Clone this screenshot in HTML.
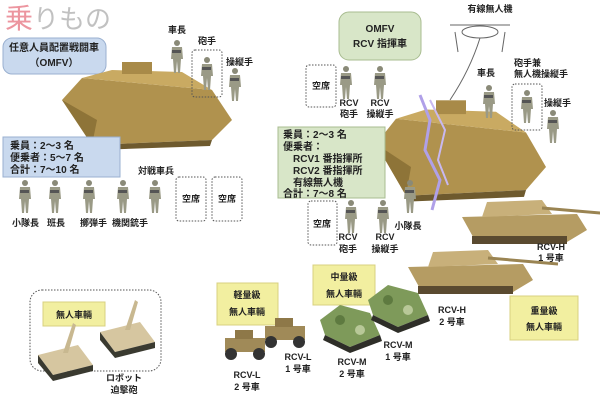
<!DOCTYPE html>
<html><head><meta charset="utf-8"><style>
html,body{margin:0;padding:0;background:#fff;}
svg{display:block;}
text{font-family:"Liberation Sans","Noto Sans CJK JP",sans-serif;font-size:10px;fill:#222;}
.b{font-weight:bold;}
</style></head><body>
<svg width="600" height="400" viewBox="0 0 600 400" xmlns="http://www.w3.org/2000/svg">
<defs>
<g id="sol"><circle cx="0" cy="3" r="3" fill="#8a8a78"/><path d="M-5 7 h10 l1 12 h-2 l-1 14 h-2 l-1 -12 l-1 12 h-2 l-1 -14 h-2z" fill="#9a9a86"/><rect x="-5" y="10" width="9" height="3" fill="#555"/></g>
<g id="tank"><path d="M0 40 L20 18 L150 30 L170 60 L150 80 L30 85 Z" fill="#b0924e"/><path d="M20 18 L50 10 L120 12 L150 30 Z" fill="#c9aa62"/><path d="M0 40 L30 85 L35 60 Z" fill="#8e7438"/><rect x="60" y="2" width="30" height="12" fill="#a88a48"/><path d="M30 85 L150 80 L148 86 L34 90Z" fill="#6e5a2e"/></g>
<g id="mbt"><path d="M0 25 L115 22 L125 38 L105 50 L15 52 Z" fill="#b59c63"/><path d="M25 10 L80 8 L90 22 L20 25 Z" fill="#c8b07a"/><line x1="80" y1="16" x2="150" y2="22" stroke="#9a8452" stroke-width="3"/><rect x="10" y="44" width="95" height="8" fill="#5a4a30"/></g>
<g id="rcvl"><rect x="0" y="8" width="40" height="14" fill="#a08a58"/><rect x="10" y="0" width="18" height="9" fill="#8e7848"/><circle cx="6" cy="24" r="6" fill="#333"/><circle cx="34" cy="24" r="6" fill="#333"/></g>
<g id="rcvm"><path d="M0 15 L20 0 L50 8 L60 30 L30 42 L5 30Z" fill="#7e9a5a"/><path d="M5 30 L30 42 L60 30 L62 36 L30 48 L3 35Z" fill="#2e2e28"/><circle cx="20" cy="15" r="5" fill="#5e7a40"/><circle cx="40" cy="25" r="5" fill="#b8c898"/></g>
<g id="robot"><path d="M0 20 L40 10 L55 30 L15 40Z" fill="#d6c6a0"/><path d="M0 20 L15 40 L15 46 L0 28Z" fill="#3a3a30"/><path d="M15 40 L55 30 L55 36 L15 46Z" fill="#3a3a30"/><path d="M25 18 L35 -12 L38 -10 L30 18Z" fill="#c8b890"/></g>
</defs>

<text x="5" y="28" style="font-size:28px;fill:#e05060;opacity:.6">乗</text>
<text x="33" y="28" style="font-size:26px;fill:#999;opacity:.6">りもの</text>

<rect x="3" y="38" width="103" height="36" rx="9" fill="#c9d9ee" stroke="#9ab0d0"/>
<text x="54" y="51" text-anchor="middle" class="b">任意人員配置戦闘車</text>
<text x="54" y="66" text-anchor="middle" class="b">（OMFV）</text>

<use href="#tank" transform="translate(62,60)"/>

<text x="177" y="33" text-anchor="middle" class="b" style="font-size:9px">車長</text>
<use href="#sol" transform="translate(177,40)"/>
<text x="207" y="44" text-anchor="middle" class="b" style="font-size:9px">砲手</text>
<rect x="192" y="50" width="30" height="47" rx="3" fill="none" stroke="#555" stroke-dasharray="1.5,1.5"/>
<use href="#sol" transform="translate(207,57)"/>
<text x="226" y="65" class="b" style="font-size:9px">操縦手</text>
<use href="#sol" transform="translate(235,68)"/>

<rect x="3" y="137" width="117" height="40" fill="#c9d9ee" stroke="#9ab0d0"/>
<text x="10" y="149" class="b">乗員：2〜3 名</text>
<text x="10" y="161" class="b">便乗者：5〜7 名</text>
<text x="10" y="173" class="b">合計：7〜10 名</text>

<text x="138" y="174" class="b" style="font-size:9px">対戦車兵</text>
<use href="#sol" transform="translate(25,180)"/>
<use href="#sol" transform="translate(55,180)"/>
<use href="#sol" transform="translate(89,180)"/>
<use href="#sol" transform="translate(123,180)"/>
<use href="#sol" transform="translate(155,180)"/>
<text x="12" y="226" class="b" style="font-size:9px">小隊長</text>
<text x="47" y="226" class="b" style="font-size:9px">班長</text>
<text x="80" y="226" class="b" style="font-size:9px">擲弾手</text>
<text x="112" y="226" class="b" style="font-size:9px">機関銃手</text>
<rect x="176" y="177" width="30" height="44" rx="3" fill="none" stroke="#555" stroke-dasharray="1.5,1.5"/>
<text x="191" y="202" text-anchor="middle" class="b" style="font-size:9px">空席</text>
<rect x="212" y="177" width="30" height="44" rx="3" fill="none" stroke="#555" stroke-dasharray="1.5,1.5"/>
<text x="227" y="202" text-anchor="middle" class="b" style="font-size:9px">空席</text>

<rect x="339" y="12" width="82" height="48" rx="10" fill="#d8e6c8" stroke="#a8bc90"/>
<text x="380" y="32" text-anchor="middle" class="b">OMFV</text>
<text x="380" y="47" text-anchor="middle" class="b">RCV 指揮車</text>

<text x="490" y="12" text-anchor="middle" class="b" style="font-size:9px">有線無人機</text>
<g stroke="#666" fill="none"><ellipse cx="480" cy="32" rx="18" ry="6"/><line x1="450" y1="25" x2="510" y2="25"/><line x1="455" y1="32" x2="458" y2="52"/><line x1="505" y1="32" x2="502" y2="52"/><path d="M480 38 Q470 70 450 100"/></g>

<use href="#tank" transform="translate(376,98) scale(1,1.15)"/>
<path d="M420 95 L430 120 L425 150 L440 180 L432 210" stroke="#b0a0e8" stroke-width="3" fill="none"/>
<path d="M430 100 L445 130 L438 160 L448 185" stroke="#c8b8f0" stroke-width="2" fill="none"/>

<rect x="306" y="65" width="30" height="42" rx="3" fill="none" stroke="#555" stroke-dasharray="1.5,1.5"/>
<text x="321" y="89" text-anchor="middle" class="b" style="font-size:9px">空席</text>
<use href="#sol" transform="translate(346,66)"/>
<use href="#sol" transform="translate(380,66)"/>
<text x="349" y="106" text-anchor="middle" class="b" style="font-size:9px">RCV</text>
<text x="349" y="117" text-anchor="middle" class="b" style="font-size:9px">砲手</text>
<text x="380" y="106" text-anchor="middle" class="b" style="font-size:9px">RCV</text>
<text x="380" y="117" text-anchor="middle" class="b" style="font-size:9px">操縦手</text>

<text x="486" y="76" text-anchor="middle" class="b" style="font-size:9px">車長</text>
<use href="#sol" transform="translate(489,85)"/>
<text x="514" y="66" class="b" style="font-size:9px">砲手兼</text>
<text x="514" y="77" class="b" style="font-size:9px">無人機操縦手</text>
<rect x="512" y="84" width="30" height="46" rx="3" fill="none" stroke="#555" stroke-dasharray="1.5,1.5"/>
<use href="#sol" transform="translate(527,90)"/>
<text x="544" y="106" class="b" style="font-size:9px">操縦手</text>
<use href="#sol" transform="translate(553,110)"/>

<rect x="278" y="127" width="107" height="71" fill="#d8e6c8" stroke="#a8bc90"/>
<text x="283" y="138" class="b">乗員：2〜3 名</text>
<text x="283" y="150" class="b">便乗者：</text>
<text x="293" y="162" class="b">RCV1 番指揮所</text>
<text x="293" y="174" class="b">RCV2 番指揮所</text>
<text x="293" y="186" class="b">有線無人機</text>
<text x="283" y="197" class="b">合計：7〜8 名</text>

<rect x="308" y="201" width="29" height="44" rx="3" fill="none" stroke="#555" stroke-dasharray="1.5,1.5"/>
<text x="322" y="227" text-anchor="middle" class="b" style="font-size:9px">空席</text>
<use href="#sol" transform="translate(351,200)"/>
<use href="#sol" transform="translate(383,200)"/>
<use href="#sol" transform="translate(410,180)"/>
<text x="348" y="240" text-anchor="middle" class="b" style="font-size:9px">RCV</text>
<text x="348" y="252" text-anchor="middle" class="b" style="font-size:9px">砲手</text>
<text x="385" y="240" text-anchor="middle" class="b" style="font-size:9px">RCV</text>
<text x="385" y="252" text-anchor="middle" class="b" style="font-size:9px">操縦手</text>
<text x="408" y="229" text-anchor="middle" class="b" style="font-size:9px">小隊長</text>

<use href="#mbt" transform="translate(462,192)"/>
<text x="551" y="250" text-anchor="middle" class="b" style="font-size:9px">RCV-H</text>
<text x="551" y="261" text-anchor="middle" class="b" style="font-size:9px">1 号車</text>
<use href="#mbt" transform="translate(408,242)"/>
<text x="452" y="313" text-anchor="middle" class="b" style="font-size:9px">RCV-H</text>
<text x="452" y="325" text-anchor="middle" class="b" style="font-size:9px">2 号車</text>

<rect x="510" y="296" width="68" height="44" fill="#f2efa0" stroke="#d8d080"/>
<text x="544" y="314" text-anchor="middle" class="b" style="font-size:9px">重量級</text>
<text x="544" y="330" text-anchor="middle" class="b" style="font-size:9px">無人車輛</text>

<rect x="30" y="290" width="131" height="81" rx="12" fill="none" stroke="#555" stroke-dasharray="1.5,1.5"/>
<rect x="43" y="302" width="62" height="24" fill="#f2efa0" stroke="#d8d080"/>
<text x="74" y="318" text-anchor="middle" class="b" style="font-size:9px">無人車輛</text>
<use href="#robot" transform="translate(100,312)"/>
<use href="#robot" transform="translate(38,335)"/>
<text x="124" y="381" text-anchor="middle" class="b" style="font-size:9px">ロボット</text>
<text x="124" y="393" text-anchor="middle" class="b" style="font-size:9px">迫撃砲</text>

<rect x="217" y="283" width="61" height="42" fill="#f2efa0" stroke="#d8d080"/>
<text x="247" y="298" text-anchor="middle" class="b" style="font-size:9px">軽量級</text>
<text x="247" y="315" text-anchor="middle" class="b" style="font-size:9px">無人車輛</text>
<rect x="313" y="265" width="62" height="40" fill="#f2efa0" stroke="#d8d080"/>
<text x="344" y="280" text-anchor="middle" class="b" style="font-size:9px">中量級</text>
<text x="344" y="297" text-anchor="middle" class="b" style="font-size:9px">無人車輛</text>

<use href="#rcvl" transform="translate(225,330)"/>
<use href="#rcvl" transform="translate(265,318)"/>
<use href="#rcvm" transform="translate(320,305)"/>
<use href="#rcvm" transform="translate(368,285)"/>
<text x="247" y="378" text-anchor="middle" class="b" style="font-size:9px">RCV-L</text>
<text x="247" y="390" text-anchor="middle" class="b" style="font-size:9px">2 号車</text>
<text x="298" y="360" text-anchor="middle" class="b" style="font-size:9px">RCV-L</text>
<text x="298" y="372" text-anchor="middle" class="b" style="font-size:9px">1 号車</text>
<text x="352" y="365" text-anchor="middle" class="b" style="font-size:9px">RCV-M</text>
<text x="352" y="377" text-anchor="middle" class="b" style="font-size:9px">2 号車</text>
<text x="398" y="348" text-anchor="middle" class="b" style="font-size:9px">RCV-M</text>
<text x="398" y="360" text-anchor="middle" class="b" style="font-size:9px">1 号車</text>
</svg>
</body></html>
